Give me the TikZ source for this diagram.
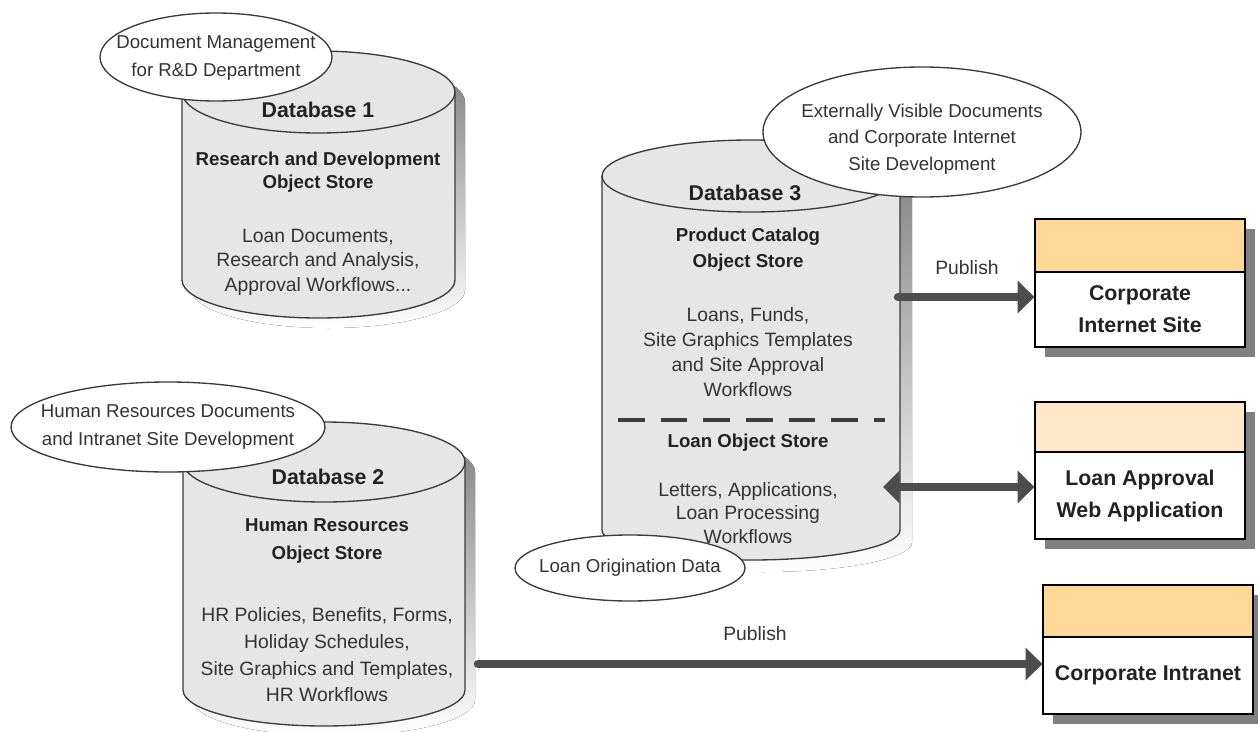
\documentclass[tikz,border=0pt]{standalone}
\usepackage{fontspec}
\setmainfont{Liberation Sans}
\usetikzlibrary{arrows.meta,shapes.geometric,shadows}

\definecolor{drumfill}{HTML}{E6E6E6}
\definecolor{edge}{HTML}{3A3A3A}
\definecolor{shade}{HTML}{808080}
\definecolor{hdrA}{HTML}{FDD897}
\definecolor{hdrB}{HTML}{FFE8CA}
\definecolor{arrowc}{HTML}{4D4D4D}
\definecolor{ink}{HTML}{222222}
\definecolor{bodyink}{HTML}{333333}

% database drum: left, right, top rim centre y, top rim radius,
% bottom centre y, bottom radius, shadow offset
\newcommand\drum[7]{%
  \pgfmathsetmacro\dL{#1}\pgfmathsetmacro\dR{#2}%
  \pgfmathsetmacro\dT{#3}\pgfmathsetmacro\dRT{#4}%
  \pgfmathsetmacro\dB{#5}\pgfmathsetmacro\dRB{#6}%
  \pgfmathsetmacro\dC{(#1+#2)/2}\pgfmathsetmacro\dKX{0.5523*(#2-#1)/2}%
  \pgfmathsetmacro\dKT{0.5523*#4}\pgfmathsetmacro\dKB{0.5523*#6}%
  \begin{scope}[shift={(#7,#7)}]
    \fill[shade] \drumpath;
  \end{scope}
  \filldraw[fill=drumfill, draw=edge, line width=1pt] \drumpath;
  \draw[edge, line width=1pt] (\dL,\dT) .. controls (\dL,\dT+\dKT) and (\dC-\dKX,\dT+\dRT) .. (\dC,\dT+\dRT)
       .. controls (\dC+\dKX,\dT+\dRT) and (\dR,\dT+\dKT) .. (\dR,\dT);
}
\newcommand\drumpath{(\dL,\dT) -- (\dL,\dB)
  .. controls (\dL,\dB+\dKB) and (\dC-\dKX,\dB+\dRB) .. (\dC,\dB+\dRB)
  .. controls (\dC+\dKX,\dB+\dRB) and (\dR,\dB+\dKB) .. (\dR,\dB) -- (\dR,\dT)
  .. controls (\dR,\dT-\dKT) and (\dC+\dKX,\dT-\dRT) .. (\dC,\dT-\dRT)
  .. controls (\dC-\dKX,\dT-\dRT) and (\dL,\dT-\dKT) .. (\dL,\dT) -- cycle}

\tikzset{
  dbhead/.style={font=\fontsize{16}{19}\selectfont\bfseries, text=ink, inner sep=0pt},
  dbsub/.style={font=\fontsize{14}{#1}\selectfont\bfseries, text=ink, align=center, inner sep=0pt},
  dbsub/.default=18pt,
  dbtext/.style={font=\fontsize{14.5}{#1}\selectfont, text=bodyink, align=center, inner sep=0pt},
  dbtext/.default=18.5pt,
  callout/.style={ellipse, draw=edge, fill=white, line width=1pt, inner sep=0pt},
  calltext/.style={font=\fontsize{14}{#1}\selectfont, text=bodyink, align=center, inner sep=0pt},
  calltext/.default=21pt,
  boxshadow/.style={drop shadow={shadow xshift=7.5pt, shadow yshift=-7.5pt, fill=shade, opacity=1}},
  sitehdr/.style={draw=black, line width=1pt, minimum width=157.5pt, inner sep=0pt, boxshadow},
  sitebody/.style={draw=black, fill=white, line width=1pt, minimum width=157.5pt, inner sep=0pt,
    align=center, font=\fontsize{16}{24}\selectfont\bfseries, text=ink, boxshadow},
  flow/.style={draw=arrowc, line width=6.3pt, line cap=round, -{Triangle[length=12.5pt,width=24pt]}},
  flowboth/.style={draw=arrowc, line width=6.3pt, {Triangle[length=12.5pt,width=24pt]}-{Triangle[length=12.5pt,width=24pt]}},
  lbl/.style={font=\fontsize{14.5}{17}\selectfont, text=bodyink, inner sep=0pt},
  divider/.style={draw=edge, line width=3pt, dash pattern=on 20pt off 12pt}
}

\begin{document}
\begin{tikzpicture}[x=0.75pt, y=-0.75pt]
\useasboundingbox (0,0) rectangle (1258,732);
\clip (0,0) rectangle (1258,732);
\fill[white] (0,0) rectangle (1258,732);

% ---- Database 1 ----
\drum{182}{455}{92}{41}{280}{38}{10}
\node[dbhead] (d1h) at (318,110) {Database 1};
\node[dbsub=17.25pt] (d1s) at (318,172) {Research and Development\\Object Store};
\node[dbtext=18.4pt] (d1b) at (318,262) {Loan Documents,\\Research and Analysis,\\Approval Workflows...};

% ---- Database 2 ----
\drum{183}{465}{462}{40}{690}{36}{10}
\node[dbhead] (d2h) at (328,477) {Database 2};
\node[dbsub=21pt] (d2s) at (327,541) {Human Resources\\Object Store};
\node[dbtext=20pt] (d2b) at (327,655) {HR Policies, Benefits, Forms,\\Holiday Schedules,\\Site Graphics and Templates,\\HR Workflows};

% ---- Database 3 ----
\drum{602}{900}{176}{36}{530}{30}{12}
\node[dbhead] (d3h) at (745,193) {Database 3};
\node[dbsub=19.5pt] (d3s) at (748,250) {Product Catalog\\Object Store};
\node[dbtext=18.75pt] (d3b) at (748,352) {Loans, Funds,\\Site Graphics Templates\\and Site Approval\\Workflows};
\draw[divider] (618,420) -- (885,420);
\node[dbsub] (d3s2) at (748,443) {Loan Object Store};
\node[dbtext=17.6pt] (d3b2) at (748,513) {Letters, Applications,\\Loan Processing\\Workflows};

% ---- publishing targets ----
\node[sitehdr, fill=hdrA, minimum height=39.75pt] (ih) at (1140,245.5) {};
\node[sitebody, minimum height=56.25pt] (ib) at (1140,309.5) {Corporate\\Internet Site};
\node[sitehdr, fill=hdrB, minimum height=37.5pt] (lh) at (1140,427) {};
\node[sitebody, minimum height=65.25pt] (lb) at (1140,495.5) {Loan Approval\\Web Application};
\node[sitehdr, fill=hdrA, minimum height=39pt] (nh) at (1148,611) {};
\node[sitebody, minimum height=57.75pt] (nb) at (1148,675.5) {Corporate Intranet};

% ---- connectors ----
\coordinate (d3pub) at (898,297);
\coordinate (d3loan) at (883,487);
\coordinate (d2pub) at (478,664);
\draw[flow] (d3pub) -- (d3pub -| ib.west);
\draw[flowboth] (d3loan) -- (d3loan -| lb.west);
\draw[flow] (d2pub) -- (d2pub -| nb.west);
\node[lbl] (pub1) at (967,268) {Publish};
\node[lbl] (pub2) at (755,634) {Publish};

% ---- callouts ----
\node[callout, minimum width=174pt, minimum height=66pt] (c1) at (216,57) {};
\node[calltext] (c1t) at (216,58) {Document Management\\for R\&D Department};
\node[callout, minimum width=235.5pt, minimum height=67.5pt] (c2) at (168,427) {};
\node[calltext] (c2t) at (c2) {Human Resources Documents\\and Intranet Site Development};
\node[callout, minimum width=238.5pt, minimum height=97.5pt] (c3) at (922,132) {};
\node[calltext=20pt] (c3t) at (922,139) {Externally Visible Documents\\and Corporate Internet\\Site Development};
\node[callout, minimum width=172.5pt, minimum height=49.5pt] (c4) at (630,568) {};
\node[calltext] (c4t) at (c4) {Loan Origination Data};
\end{tikzpicture}
\end{document}
